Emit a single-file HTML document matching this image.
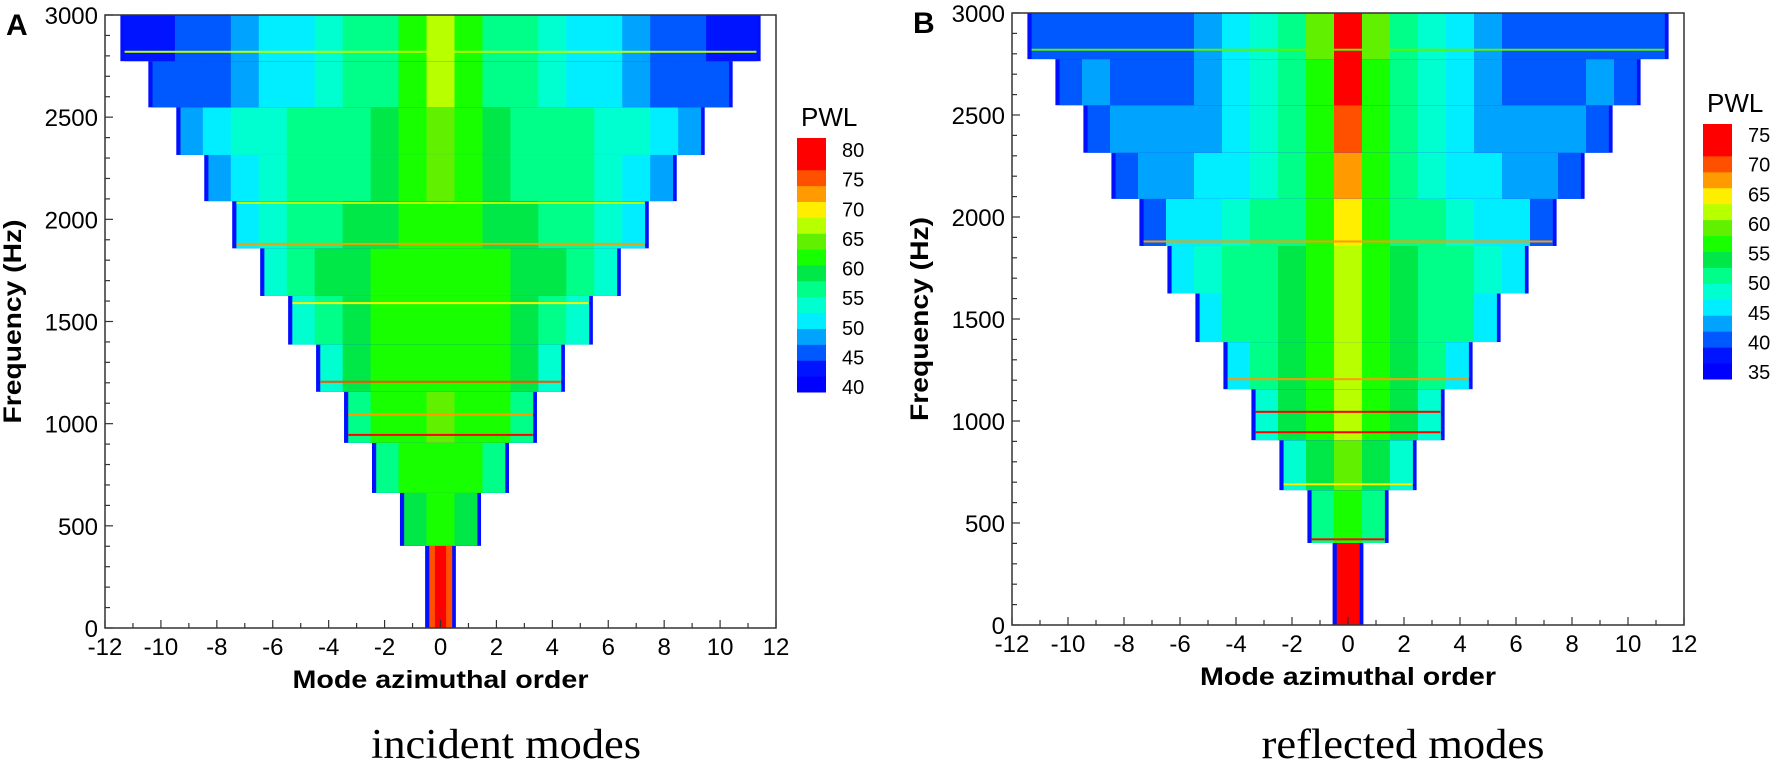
<!DOCTYPE html>
<html><head><meta charset="utf-8">
<style>
html,body{margin:0;padding:0;background:#fff;}
svg{display:block;font-family:"Liberation Sans",Arial,sans-serif;}
</style></head>
<body>
<svg id="fig" width="1772" height="763" viewBox="0 0 1772 763" xmlns="http://www.w3.org/2000/svg">
<g id="panelA"></g>
<g id="panelB"></g>
</svg>
<script>
// ---- data ----
const bandEdges = [0, 402, 661, 906, 1156, 1387, 1625, 1858, 2089, 2315, 2548, 2774, 3000];
const bandMaxMode = [0, 1, 2, 3, 4, 5, 6, 7, 8, 9, 10, 11];
const valuesA = [
  [74],
  [62, 58],
  [62, 61, 57],
  [63, 62, 60, 56],
  [62, 61, 60, 58, 54],
  [62, 61, 60, 59, 57, 54],
  [62, 61, 60, 59, 58, 56, 53],
  [61, 60, 59, 58, 57, 55, 53, 50],
  [63, 60, 58, 57, 56, 55, 53, 51, 48],
  [63, 60, 58, 57, 56, 55, 54, 53, 52, 49],
  [66, 60, 57, 55, 53, 52, 50, 48, 47, 46, 45],
  [65, 60, 57, 55, 53, 52, 50, 48, 46, 45, 44, 44]
];
const valuesB = [
  [72],
  [56, 50],
  [58, 54, 48],
  [60, 55, 53, 48],
  [60, 55, 53, 52, 47],
  [62, 56, 54, 52, 51, 46],
  [62, 56, 53, 52, 50, 49, 45],
  [64, 56, 52, 50, 48, 46, 45, 42],
  [66, 56, 52, 49, 47, 45, 44, 44, 41],
  [68, 57, 52, 48, 46, 44, 43, 43, 44, 40],
  [70, 57, 52, 48, 45, 43, 42, 41, 42, 44, 40],
  [71, 58, 52, 48, 45, 43, 42, 41, 40, 40, 42, 40]
];
const streakFreqA = [1880, 1205, 1045, 945, 1590, 2820, 2080];
const streakValA = [72, 74, 72, 76, 68, 66, 66];
const streakFreqB = [1880, 1205, 1045, 945, 2820, 420, 690];
const streakValB = [66, 66, 70, 72, 58, 70, 64];
const levelColors = ["#0000ff","#0014ff","#0058ff","#00a4ff","#00eeff","#00ffd0","#00ff88","#00e848","#18ff00","#60f000","#b8ff00","#ffee00","#ff9a00","#ff5000","#ff0000","#ff0000"];
const xTicks = [-12,-10,-8,-6,-4,-2,0,2,4,6,8,10,12];
const yTicks = [0,500,1000,1500,2000,2500,3000];
const cbTicksA = [80,75,70,65,60,55,50,45,40];
const cbTicksB = [75,70,65,60,55,50,45,40,35];

const NS = "http://www.w3.org/2000/svg";
function mk(parent, tag, attrs){ const e=document.createElementNS(NS,tag); for(const k in attrs) e.setAttribute(k,attrs[k]); parent.appendChild(e); return e; }

function drawPanel(g, cfg){
  const {x0,x1,y0,y1,vals,vmin,sFreq,sVal,letter,cb,cbTicks,caption,capX,capLen} = cfg;
  const X = m => x0 + (m+12)/24*(x1-x0);
  const Y = f => y1 - f/3000*(y1-y0);
  const col = v => { let i=Math.floor((v-vmin)/2.5); i=Math.max(0,Math.min(15,i)); return levelColors[i]; };
  for(let b=0;b<vals.length;b++){
    const mm = bandMaxMode[b];
    const ya = Y(bandEdges[b+1]), yb = Y(bandEdges[b]);
    const ext = b===0 ? 0.55 : mm+0.45;
    const edge = mk(g,"rect",{x:X(-ext),y:ya,width:X(ext)-X(-ext),height:yb-ya,fill:"#0010ff"});
    
    
    const lim = b===0 ? 0.4 : mm+0.3;
    for(let m=-mm;m<=mm;m++){
      const v = vals[b][Math.abs(m)];
      const xa = X(Math.max(m-0.5,-lim)), xb = X(Math.min(m+0.5,lim));
      const r = mk(g,"rect",{x:xa,y:ya,width:xb-xa+0.5,height:yb-ya,fill:col(v)});
      
      
    }
    if(b===0){
      const c = mk(g,"rect",{x:X(-0.2),y:ya,width:X(0.2)-X(-0.2),height:yb-ya,fill:col(vals[0][0]+4)});
      
      
    }
  }
  for(let i=0;i<sFreq.length;i++){
    const f=sFreq[i]; let b=0; while(b<bandEdges.length-2 && f>=bandEdges[b+1]) b++;
    const ext = bandMaxMode[b]+0.3;
    const s = mk(g,"rect",{x:X(-ext),y:Y(f)-1,width:X(ext)-X(-ext),height:2,fill:col(sVal[i])});
    
    
  }
  const ax = mk(g,"rect",{x:x0,y:y0,width:x1-x0,height:y1-y0,fill:"none",stroke:"#333",'stroke-width':1.5});
  
  
  for(let m=-12;m<=12;m++){
    const L = m%2===0?8:5;
    mk(g,"line",{x1:X(m),x2:X(m),y1:y1,y2:y1-L,stroke:"#333",'stroke-width':1.2});
  }
  for(const t of xTicks){
    const tx = mk(g,"text",{x:X(t),y:y1+27,'text-anchor':'middle','font-size':24,fill:"#000"});
    tx.textContent = t;
    
    
  }
  for(let f=0;f<=3000;f+=100){
    const L = f%500===0?8:5;
    mk(g,"line",{x1:x0,x2:x0+L,y1:Y(f),y2:Y(f),stroke:"#333",'stroke-width':1.2});
  }
  for(const t of yTicks){
    const ty = mk(g,"text",{x:x0-7,y:Y(t)+9,'text-anchor':'end','font-size':24,fill:"#000"});
    ty.textContent = t;
    
    
  }
  const xt = mk(g,"text",{x:(x0+x1)/2,y:y1+60,'text-anchor':'middle','font-size':25,'font-weight':'bold',fill:"#000",textLength:296,lengthAdjust:"spacingAndGlyphs"});
  xt.textContent="Mode azimuthal order";
  
  
  const ylx = x0-84, yly=(y0+y1)/2;
  const yt = mk(g,"text",{x:ylx,y:yly,'text-anchor':'middle','font-size':25,'font-weight':'bold',fill:"#000",textLength:204,lengthAdjust:"spacingAndGlyphs",transform:`rotate(-90 ${ylx} ${yly})`});
  yt.textContent="Frequency (Hz)";
  
  
  const lt = mk(g,"text",{x:x0-99,y:y0+20,'font-size':30,'font-weight':'bold',fill:"#000"});
  lt.textContent=letter;
  
  
  const lh = (cb.y1-cb.y0)/16;
  for(let i=0;i<16;i++){
    const r = mk(g,"rect",{x:cb.x,y:cb.y1-(i+1)*lh,width:29,height:lh+0.5,fill:levelColors[i]});
    
    
  }
  const pw = mk(g,"text",{x:cb.x+4,y:cb.y0-12,'font-size':26,fill:"#000"});
  pw.textContent="PWL";
  
  
  for(let i=0;i<cbTicks.length;i++){
    const yy = cb.t0 + i*(cb.t1-cb.t0)/(cbTicks.length-1);
    const t = mk(g,"text",{x:cb.x+45,y:yy+7,'font-size':20,fill:"#000"});
    t.textContent=cbTicks[i];
    
    
  }
  const cap = mk(g,"text",{x:capX,y:758,'text-anchor':'middle','font-size':42,'font-family':'"Liberation Serif",serif',fill:"#000",textLength:capLen,lengthAdjust:"spacingAndGlyphs"});
  cap.textContent=caption;
  
  
}
drawPanel(document.getElementById('panelA'),{x0:105,x1:776,y0:15,y1:628,vals:valuesA,vmin:40,sFreq:streakFreqA,sVal:streakValA,letter:"A",
  cb:{x:797,y0:138,y1:392,t0:150,t1:387},cbTicks:cbTicksA,caption:"incident modes",capX:506,capLen:270});
drawPanel(document.getElementById('panelB'),{x0:1012,x1:1684,y0:13,y1:625,vals:valuesB,vmin:35,sFreq:streakFreqB,sVal:streakValB,letter:"B",
  cb:{x:1703,y0:124,y1:379,t0:135,t1:372},cbTicks:cbTicksB,caption:"reflected modes",capX:1403,capLen:283});
</script>
</body></html>
